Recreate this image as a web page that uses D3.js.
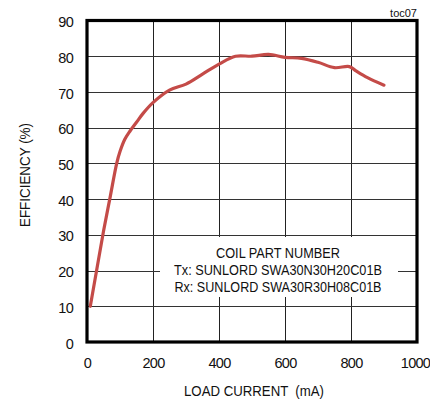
<!DOCTYPE html>
<html><head><meta charset="utf-8">
<script src="https://cdn.jsdelivr.net/npm/d3@7"></script>
<style>
body{margin:0;background:#fff;}
text{font-family:"Liberation Sans",Arial,sans-serif;fill:#111;}
</style></head>
<body>
<svg id="c" width="430" height="402"></svg>
<script>
const loadCurrent = [10, 30, 50, 70, 90, 100, 115, 130, 150, 170, 200, 250, 300, 350, 400, 450, 500, 550, 600, 650, 700, 750, 795, 815, 850, 900];
const efficiency  = [10, 20.5, 31, 40.5, 50, 53.3, 56.8, 59, 61.5, 64, 67, 70.5, 72.2, 75, 77.8, 80, 80, 80.5, 79.7, 79.4, 78.3, 76.8, 77.1, 75.9, 74, 71.9];
const xTicks = [0, 200, 400, 600, 800, 1000];
const yTicks = [0, 10, 20, 30, 40, 50, 60, 70, 80, 90];
const legendLines = ["COIL PART NUMBER", "Tx: SUNLORD SWA30N30H20C01B", "Rx: SUNLORD SWA30R30H08C01B"];

const svg = d3.select("#c");
const L = 87, R = 417, T = 20.5, B = 342;
const x = d3.scaleLinear().domain([0, 1000]).range([L, R]);
const y = d3.scaleLinear().domain([0, 90]).range([B, T]);

// gridlines
const g = svg.append("g");
g.selectAll(".vg").data(xTicks.slice(1, -1)).enter().append("line")
  .attr("x1", d => Math.round(x(d)) + 0.5).attr("x2", d => Math.round(x(d)) + 0.5)
  .attr("y1", T).attr("y2", B).attr("stroke", "#222").attr("stroke-width", 1);
g.selectAll(".hg").data(yTicks.slice(1, -1)).enter().append("line")
  .attr("y1", d => Math.round(y(d)) + 0.5).attr("y2", d => Math.round(y(d)) + 0.5)
  .attr("x1", L).attr("x2", R).attr("stroke", "#333").attr("stroke-width", 1);

// legend box (white, covers grid)
svg.append("rect").attr("x", 160).attr("y", 237).attr("width", 238).attr("height", 60).attr("fill", "#fff");
const lw = [124, 208, 207];
legendLines.forEach((t, i) => {
  svg.append("text").attr("x", 278).attr("y", 257.5 + i * 17.2)
    .attr("text-anchor", "middle").attr("font-size", 14.5)
    .attr("textLength", lw[i]).attr("lengthAdjust", "spacingAndGlyphs").text(t);
});

// curve
const line = d3.line().x((d, i) => x(loadCurrent[i])).y(d => y(d)).curve(d3.curveCatmullRom.alpha(0.5));
svg.append("path").datum(efficiency).attr("d", line)
  .attr("fill", "none").attr("stroke", "#C44B48").attr("stroke-width", 3.2)
  .attr("stroke-linecap", "round").attr("stroke-linejoin", "round");

// frame
svg.append("rect").attr("x", L).attr("y", T).attr("width", R - L).attr("height", B - T)
  .attr("fill", "none").attr("stroke", "#000").attr("stroke-width", 3.2);

// axes (labels only)
const xa = svg.append("g").attr("transform", `translate(0,${B})`)
  .call(d3.axisBottom(x).tickValues(xTicks).tickFormat(d3.format("d")).tickSize(0).tickPadding(0));
xa.select(".domain").remove();
xa.selectAll("text").attr("y", 26).attr("dy", 0).attr("font-size", 14.5).attr("fill", "#111")
  .style("letter-spacing", "-0.7px").attr("font-family", null)
  .attr("x", d => d === 1000 ? -2 : 0);

const ya = svg.append("g").attr("transform", `translate(${L},0)`)
  .call(d3.axisLeft(y).tickValues(yTicks).tickSize(0).tickPadding(0));
ya.select(".domain").remove();
ya.selectAll("text").attr("x", -14).attr("dy", "0.42em").attr("font-size", 14.5).attr("fill", "#111")
  .style("letter-spacing", "-0.7px").attr("font-family", null);

// titles
svg.append("text").attr("x", 254).attr("y", 396).attr("text-anchor", "middle").attr("font-size", 14.5)
  .attr("textLength", 140).attr("lengthAdjust", "spacingAndGlyphs").text("LOAD CURRENT  (mA)").style("white-space", "pre");
svg.append("text").attr("transform", "translate(30,175) rotate(-90)").attr("text-anchor", "middle").attr("font-size", 14.5)
  .attr("textLength", 104).attr("lengthAdjust", "spacingAndGlyphs").text("EFFICIENCY (%)");
svg.append("text").attr("x", 417).attr("y", 16.5).attr("text-anchor", "end").attr("font-size", 11).text("toc07");
</script>
</body></html>
